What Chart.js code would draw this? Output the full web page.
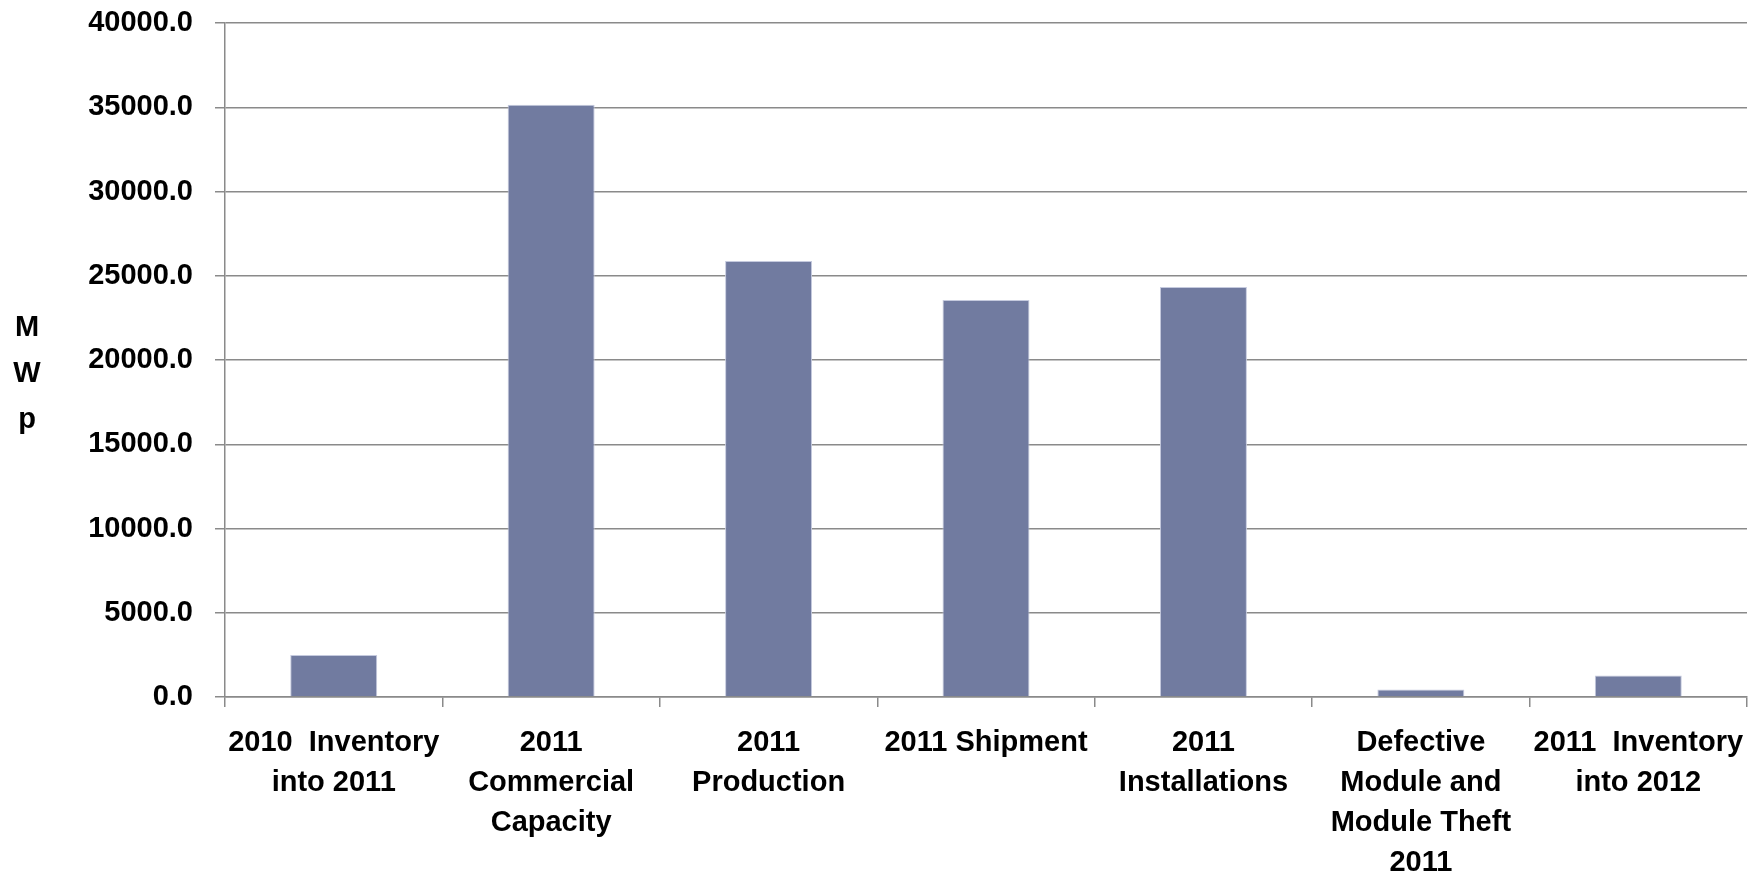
<!DOCTYPE html>
<html>
<head>
<meta charset="utf-8">
<title>MWp 2011</title>
<script src="https://cdn.jsdelivr.net/npm/chart.js@4.4.0/dist/chart.umd.min.js"></script>
<style>
  html, body { margin: 0; padding: 0; background: #fff; }
  #wrap { width: 1763px; height: 872px; position: relative; }
</style>
</head>
<body>
<div id="wrap"><canvas id="mwpChart"></canvas></div>
<script>
// categories (multi-line labels) and values in MWp
const categories = [
  ['2010  Inventory', 'into 2011'],
  ['2011', 'Commercial', 'Capacity'],
  ['2011', 'Production'],
  ['2011 Shipment'],
  ['2011', 'Installations'],
  ['Defective', 'Module and', 'Module Theft', '2011'],
  ['2011  Inventory', 'into 2012']
];
const mwpValues = [2500, 35150, 25880, 23560, 24330, 450, 1280];
const yTicks = [0, 5000, 10000, 15000, 20000, 25000, 30000, 35000, 40000];
const yTitle = ['M', 'W', 'p'];

const labelFont = { family: "'Liberation Sans', Arial, sans-serif", size: 29, weight: 'bold', lineHeight: '40px' };
const gridGrey = '#8a8a8a';

// stacked, unrotated axis title on the left
const stackedTitle = {
  id: 'stackedTitle',
  afterDraw(chart){
    const ctx = chart.ctx;
    ctx.save();
    ctx.font = 'bold 29px "Liberation Sans", Arial, sans-serif';
    ctx.fillStyle = '#000';
    ctx.textAlign = 'center';
    ctx.textBaseline = 'alphabetic';
    yTitle.forEach((ch, i) => {
      ctx.fillText(ch, 27, 336 + i * 46);
    });
    ctx.restore();
  }
};

const ctx = document.getElementById('mwpChart').getContext('2d');
new Chart(ctx, {
  type: 'bar',
  data: {
    labels: categories,
    datasets: [{
      label: 'MWp',
      data: mwpValues,
      backgroundColor: '#717ba0',
      borderColor: '#c5cade',
      borderWidth: 1,
      categoryPercentage: 1,
      barPercentage: 0.4
    }]
  },
  options: {
    responsive: true,
    maintainAspectRatio: false,
    animation: false,
    layout: { padding: { top: 23, right: 16, left: 0, bottom: 0 } },
    plugins: {
      legend: { display: false },
      tooltip: { enabled: false }
    },
    scales: {
      x: {
        grid: {
          drawOnChartArea: false,
          drawTicks: true,
          tickLength: 10,
          color: gridGrey,
          lineWidth: 1.5
        },
        border: { display: true, color: gridGrey, width: 1.5 },
        ticks: {
          color: '#000',
          font: labelFont,
          maxRotation: 0,
          autoSkip: false,
          padding: 16
        },
        afterFit(scale){ scale.height = 175; }
      },
      y: {
        min: 0,
        max: 40000,
        afterBuildTicks(scale){
          scale.ticks = yTicks.map(v => ({ value: v }));
        },
        grid: {
          color: gridGrey,
          lineWidth: 1.5,
          tickLength: 10
        },
        border: { display: true, color: gridGrey, width: 1.5 },
        ticks: {
          color: '#000',
          font: { family: labelFont.family, size: 29, weight: 'bold' },
          padding: 22,
          callback: v => v.toFixed(1)
        },
        afterFit(scale){
          scale.width = 225;
          // keep the plot top pinned to the layout padding
          scale.paddingTop = 0;
          scale.paddingBottom = 0;
        }
      }
    }
  },
  plugins: [stackedTitle]
});
</script>
</body>
</html>
